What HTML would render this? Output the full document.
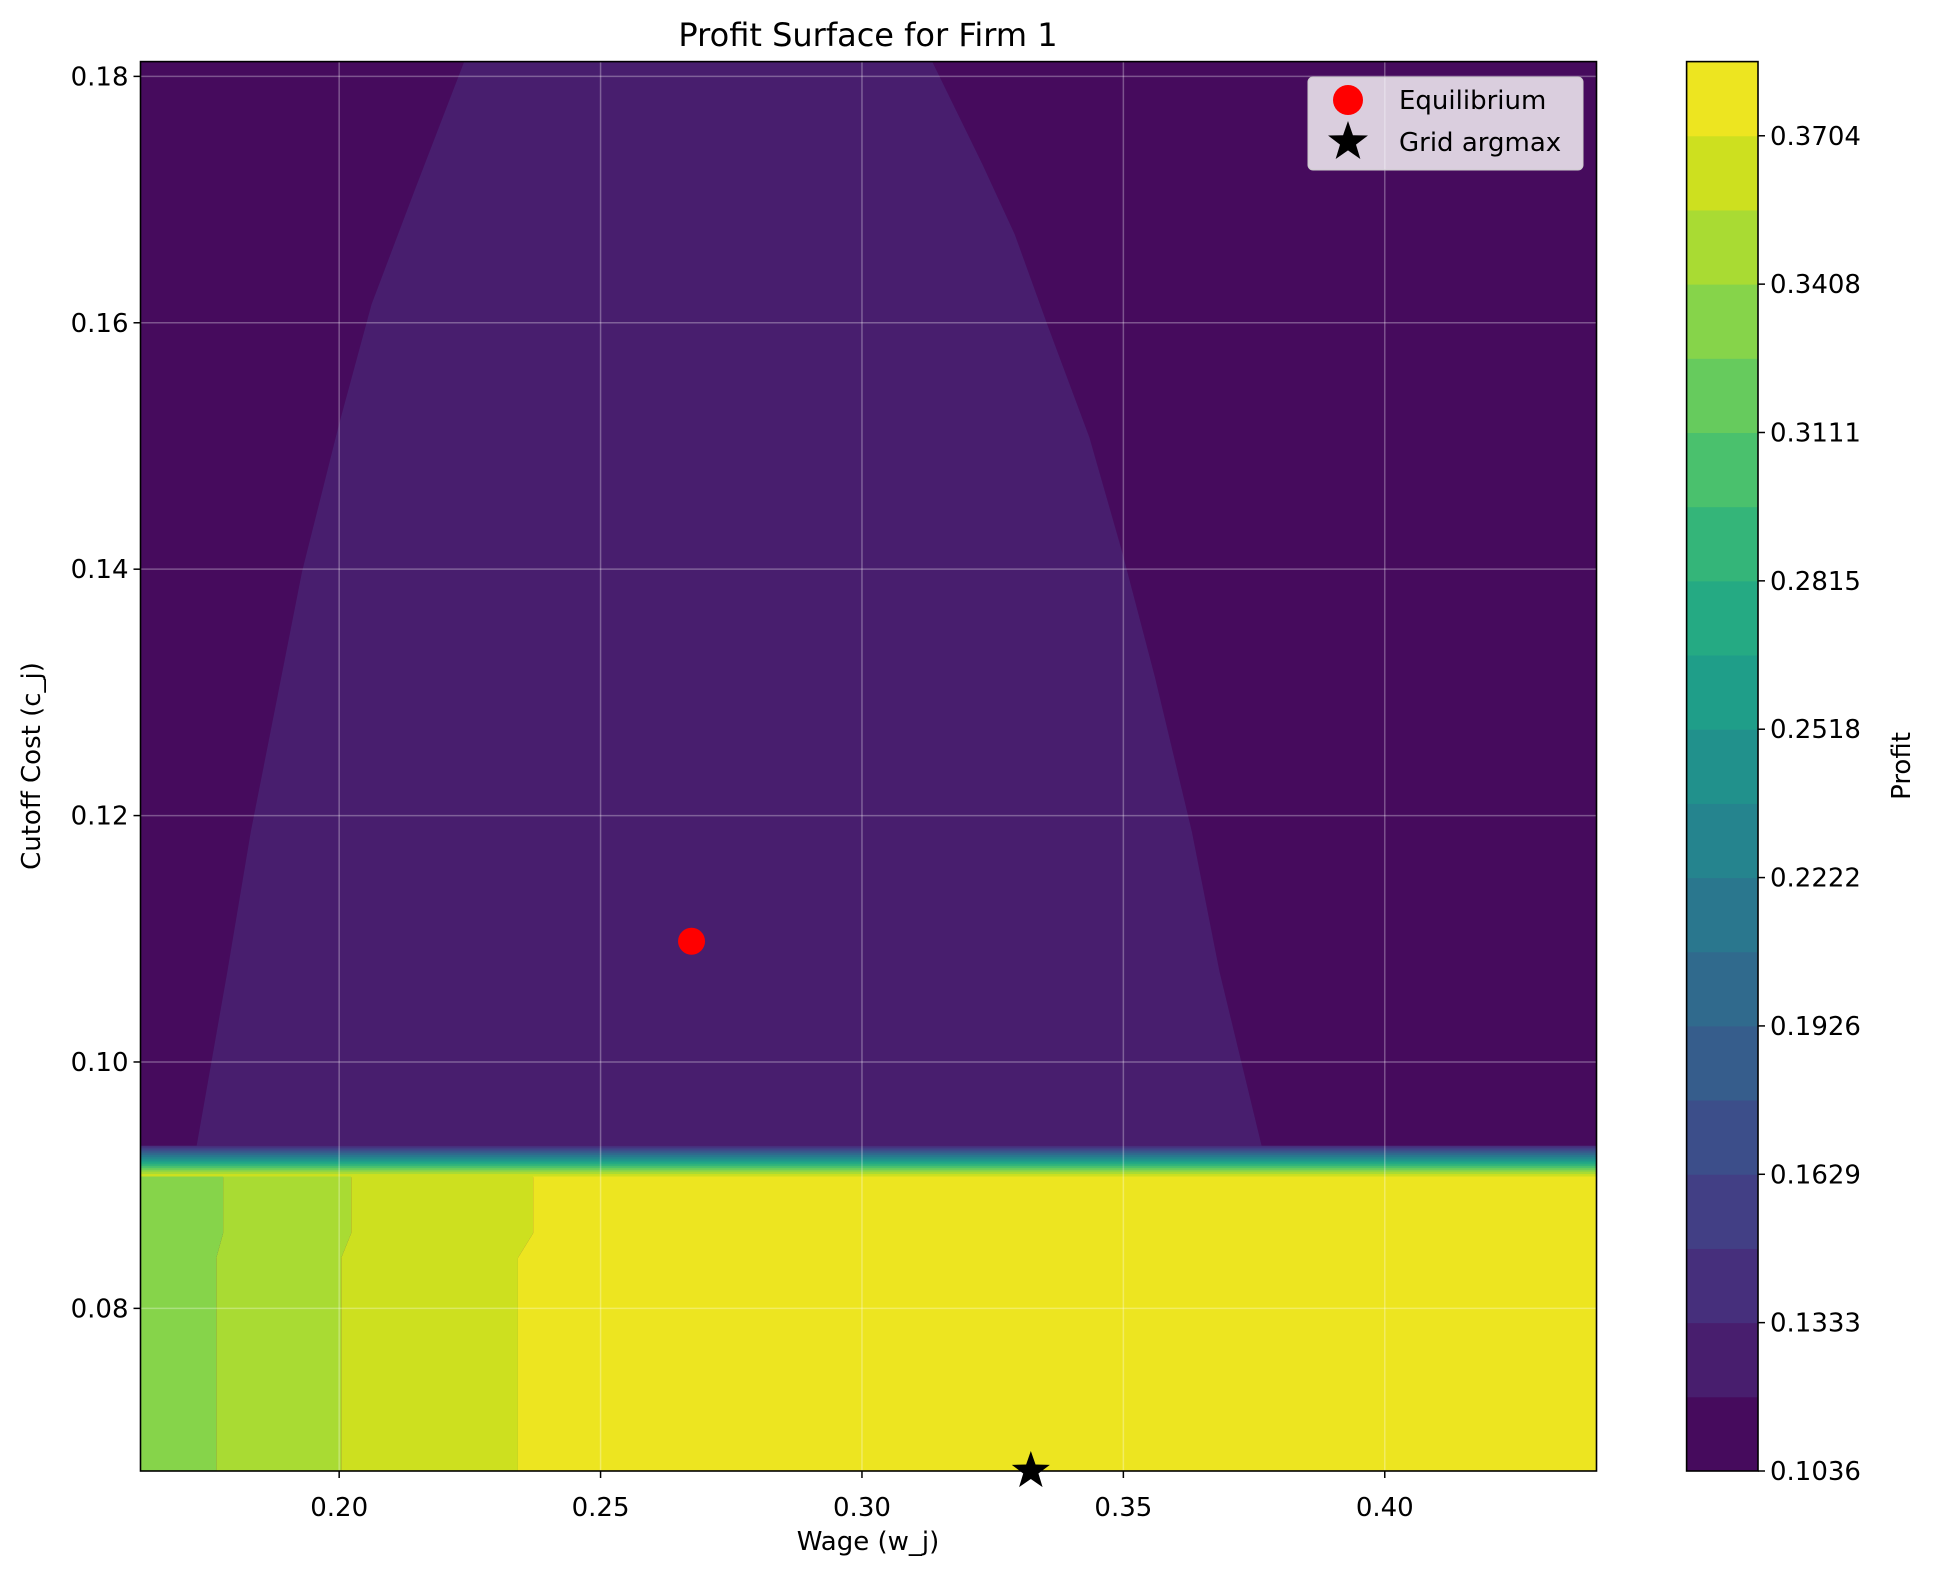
<!DOCTYPE html>
<html><head><meta charset="utf-8"><style>
html,body{margin:0;padding:0;background:#fff;}
svg{display:block;font-family:"DejaVu Sans","Liberation Sans",sans-serif;}
</style></head><body>
<svg id="chart" width="1933" height="1580" viewBox="0 0 1933 1580" xmlns="http://www.w3.org/2000/svg">
<text x="868" y="46" font-size="32" text-anchor="middle">Profit Surface for Firm 1</text>
<g id="plot"></g>
<g id="axes"></g>
<g id="cbar"></g>
<text x="868" y="1550" font-size="26" text-anchor="middle">Wage (w_j)</text>
<text transform="translate(40,766) rotate(-90)" font-size="26" text-anchor="middle">Cutoff Cost (c_j)</text>
<text transform="translate(1910,766) rotate(-90)" font-size="26" text-anchor="middle">Profit</text>
<g id="legend"></g>
</svg>
<script>
// ---- data ----
const xTicks = [0.20, 0.25, 0.30, 0.35, 0.40];
const yTicks = [0.08, 0.10, 0.12, 0.14, 0.16, 0.18];
const levelStart = 0.1036;
const levelStep = 0.014815;
const levelCount = 19;
const cbarTickLabels = ["0.1036","0.1333","0.1629","0.1926","0.2222","0.2518","0.2815","0.3111","0.3408","0.3704"];
// ridge region (level 1) boundary
const ridgeLeftCutoff = [0.1814, 0.1706, 0.1615, 0.1518, 0.1398, 0.1301, 0.1187, 0.1073, 0.0931];
const ridgeLeftWage = [0.2241, 0.2143, 0.2062, 0.2000, 0.1929, 0.1884, 0.1831, 0.1786, 0.1727];
const ridgeRightCutoff = [0.1814, 0.1729, 0.1672, 0.1598, 0.1507, 0.1415, 0.1313, 0.1187, 0.1073, 0.0931];
const ridgeRightWage = [0.3132, 0.3230, 0.3292, 0.3355, 0.3435, 0.3497, 0.3560, 0.3631, 0.3684, 0.3765];
// transition band: strip edges (cutoff) and their level index
const bandEdges = [0.0932, 0.09305, 0.0929, 0.09275, 0.0926, 0.09245, 0.0923, 0.09215, 0.0920, 0.09185, 0.0917, 0.09155, 0.0914, 0.09125, 0.0911, 0.0909, 0.0907];
const bandLevels = [2, 3, 4, 5, 6, 7, 8, 9, 10, 11, 12, 13, 14, 15, 16, 17];
// bottom columns
const colTopWage = [0.1620, 0.1778, 0.2023, 0.2371, 0.4405];
const colBottomWage = [0.1620, 0.1765, 0.2004, 0.2342, 0.4405];
const colLevels = [15, 16, 17, 18];
const kinkCutoff = [0.0861, 0.0841];
const bandBottom = 0.0907;
const equilibrium = [0.2674, 0.1098];
const gridArgmax = [0.3323, 0.0668];
// ---- scales ----
const xMin = 0.1620, xMax = 0.4405, yMin = 0.0668, yMax = 0.1812;
const L = 140.5, R = 1596.5, T = 61.6, B = 1471;
const sx = v => L + (v - xMin) / (xMax - xMin) * (R - L);
const sy = v => B - (v - yMin) / (yMax - yMin) * (B - T);
const VIR = ["#440154","#48186a","#472d7b","#424086","#3b528b","#33638d","#2c728e","#26828e","#21918c","#1fa088","#28ae80","#3fbc73","#5ec962","#84d44b","#addc30","#d8e219","#fde725"];
function viridis(t){
  const p = t * 16, i = Math.min(15, Math.floor(p)), f = p - i;
  const a = VIR[i], b = VIR[i+1];
  const c = k => Math.round(parseInt(a.substr(k,2),16)*(1-f) + parseInt(b.substr(k,2),16)*f);
  return `rgb(${c(1)},${c(3)},${c(5)})`;
}
const levelColor = i => viridis((i + 0.5) / levelCount);
const NS = "http://www.w3.org/2000/svg";
function mk(tag, attrs, parent){ const e = document.createElementNS(NS, tag); for (const k in attrs) e.setAttribute(k, attrs[k]); parent.appendChild(e); return e; }
const plot = document.getElementById('plot');
const axes = document.getElementById('axes');
const cbar = document.getElementById('cbar');
const legend = document.getElementById('legend');
const clip = mk('clipPath', {id:'plotclip'}, mk('defs', {}, document.getElementById('chart')));
mk('rect', {x:L, y:T, width:R-L, height:B-T}, clip);
plot.setAttribute('clip-path', 'url(#plotclip)');
// background level 0
let bg = mk('rect', {x:L, y:T, width:R-L, height:B-T, fill:levelColor(0)}, plot);


// ridge polygon
let pts = [];
ridgeLeftCutoff.forEach((c,i)=>pts.push(sx(ridgeLeftWage[i])+','+sy(c)));
pts.push(sx(ridgeLeftWage[ridgeLeftWage.length-1])+','+sy(bandEdges[0]));
pts.push(sx(ridgeRightWage[ridgeRightWage.length-1])+','+sy(bandEdges[0]));
for (let i = ridgeRightCutoff.length-1; i >= 0; i--) pts.push(sx(ridgeRightWage[i])+','+sy(ridgeRightCutoff[i]));
let ridge = mk('polygon', {points: pts.join(' '), fill: levelColor(1)}, plot);


// band strips
bandLevels.forEach((lv, i) => {
  const y1 = sy(bandEdges[i]), y2 = sy(bandEdges[i+1]);
  const r = mk('rect', {x:L, y:y1, width:R-L, height:(y2-y1)+0.6, fill:levelColor(lv)}, plot);
  
  
});
// bottom columns
colLevels.forEach((lv, i) => {
  const p = [
    [sx(colTopWage[i]), sy(bandBottom)], [sx(colTopWage[i+1]), sy(bandBottom)],
    [sx(colTopWage[i+1]), sy(kinkCutoff[0])], [sx(colBottomWage[i+1]), sy(kinkCutoff[1])],
    [sx(colBottomWage[i+1]), sy(yMin)], [sx(colBottomWage[i]), sy(yMin)],
    [sx(colBottomWage[i]), sy(kinkCutoff[1])], [sx(colTopWage[i]), sy(kinkCutoff[0])]
  ];
  const poly = mk('polygon', {points: p.map(q=>q.join(',')).join(' '), fill: levelColor(lv)}, plot);
  
  
});
// grid
xTicks.forEach(v => {
  const g = mk('line', {x1:sx(v), x2:sx(v), y1:T, y2:B, stroke:'rgba(255,255,255,0.3)', 'stroke-width':1.5}, plot);
  
  
  const t = mk('line', {x1:sx(v), x2:sx(v), y1:B, y2:B+7, stroke:'#000', 'stroke-width':1.5}, axes);
  
  
  const l = mk('text', {x:sx(v), y:B+45, 'font-size':26, 'text-anchor':'middle'}, axes);
  l.textContent = v.toFixed(2);
  
  
});
yTicks.forEach(v => {
  const g = mk('line', {x1:L, x2:R, y1:sy(v), y2:sy(v), stroke:'rgba(255,255,255,0.3)', 'stroke-width':1.5}, plot);
  
  
  const t = mk('line', {x1:L-7, x2:L, y1:sy(v), y2:sy(v), stroke:'#000', 'stroke-width':1.5}, axes);
  
  
  const l = mk('text', {x:L-12, y:sy(v)+9, 'font-size':26, 'text-anchor':'end'}, axes);
  l.textContent = v.toFixed(2);
  
  
});
// markers
const eq = mk('circle', {cx:sx(equilibrium[0]), cy:sy(equilibrium[1]), r:13.5, fill:'#ff0000'}, axes);


function star(cx, cy, r){ const p=[]; for(let i=0;i<10;i++){const a=-Math.PI/2+i*Math.PI/5; const rr=i%2?r*0.4:r; p.push((cx+rr*Math.cos(a))+','+(cy+rr*Math.sin(a)));} return p.join(' '); }
// frame
const fr = mk('rect', {x:L, y:T, width:R-L, height:B-T, fill:'none', stroke:'#000', 'stroke-width':1.6}, axes);


const st = mk('polygon', {points: star(sx(gridArgmax[0]), sy(gridArgmax[1]), 20), fill:'#000'}, axes);


// colorbar
const CL = 1686.6, CR = 1758;
for (let i = 0; i < levelCount; i++) {
  const h = (B - T) / levelCount;
  const r = mk('rect', {x:CL, y:B-(i+1)*h, width:CR-CL, height:h+0.5, fill:levelColor(i)}, cbar);
  
  
}
const cf = mk('rect', {x:CL, y:T, width:CR-CL, height:B-T, fill:'none', stroke:'#000', 'stroke-width':1.6}, cbar);


cbarTickLabels.forEach((s, i) => {
  const v = levelStart + i * 2 * levelStep;
  const y = B - (v - levelStart) / (levelStep * levelCount) * (B - T);
  const t = mk('line', {x1:CR, x2:CR+7, y1:y, y2:y, stroke:'#000', 'stroke-width':1.5}, cbar);
  
  
  const l = mk('text', {x:CR+12, y:y+9, 'font-size':26}, cbar);
  l.textContent = s;
  
  
});
// legend
const lb = mk('rect', {x:1308, y:77, width:275, height:93, rx:5, fill:'rgba(255,255,255,0.8)', stroke:'#ccc', 'stroke-width':1}, legend);


const lc = mk('circle', {cx:1348, cy:100, r:15, fill:'#ff0000'}, legend);


const lt1 = mk('text', {x:1399, y:109, 'font-size':26}, legend);
lt1.textContent = 'Equilibrium';


const ls = mk('polygon', {points: star(1348, 142, 21), fill:'#000'}, legend);


const lt2 = mk('text', {x:1399, y:151, 'font-size':26}, legend);
lt2.textContent = 'Grid argmax';


</script>
</body></html>
